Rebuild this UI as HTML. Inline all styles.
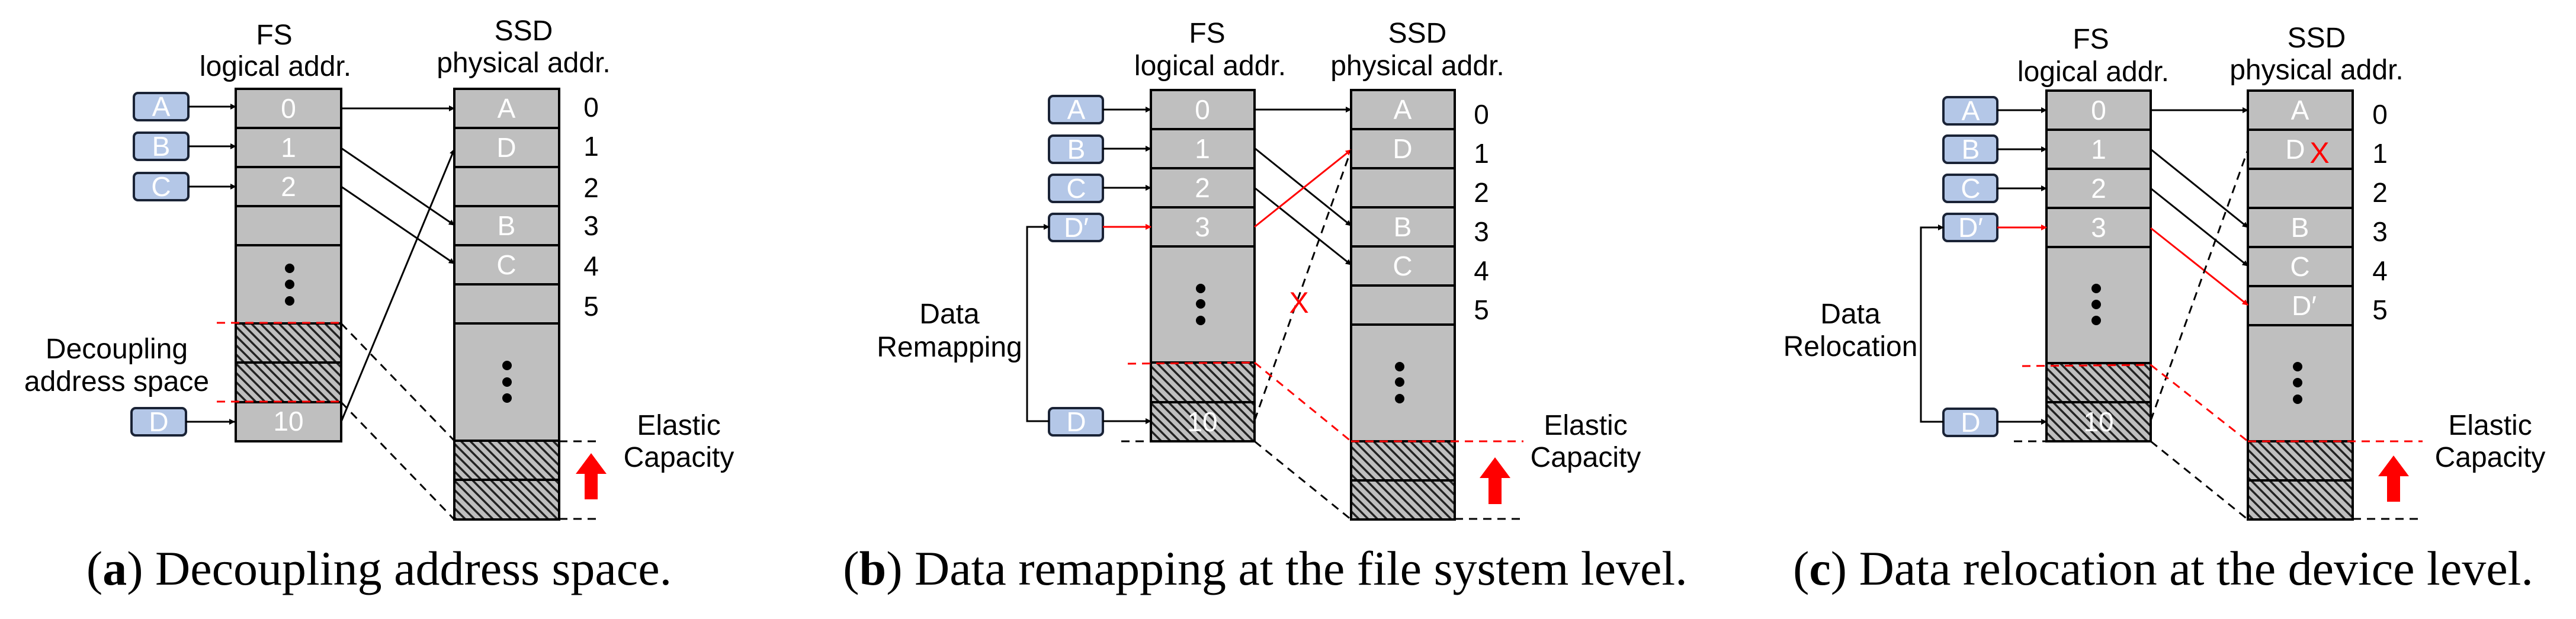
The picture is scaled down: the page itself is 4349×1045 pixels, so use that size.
<!DOCTYPE html>
<html><head><meta charset="utf-8"><style>
html,body{margin:0;padding:0;background:#fff;width:4349px;height:1045px;overflow:hidden}
svg{display:block}
text{font-family:"Liberation Sans",sans-serif}
.w{fill:#fff;font-size:46px;text-anchor:middle}
.k{fill:#000;font-size:46px;text-anchor:middle}
.h{fill:#000;font-size:48px;text-anchor:middle}
.cap{font-family:"Liberation Serif",serif;font-size:82px;fill:#000;text-anchor:middle}
.g{fill:#bfbfbf;stroke:#000;stroke-width:4}
.ht{fill:url(#hatch);stroke:#000;stroke-width:4}
.b{fill:#b4c7e7;stroke:#1a2336;stroke-width:4}
.ar{stroke:#000;stroke-width:3;fill:none;marker-end:url(#mk)}
.arr{stroke:#f00;stroke-width:3;fill:none;marker-end:url(#mr)}
.dk{stroke:#000;stroke-width:3;fill:none;stroke-dasharray:14 10}
.dr{stroke:#f00;stroke-width:3;fill:none;stroke-dasharray:14 10}
</style></head><body>
<svg width="4349" height="1045" viewBox="0 0 4349 1045" xmlns="http://www.w3.org/2000/svg">
<defs>
<pattern id="hatch" patternUnits="userSpaceOnUse" width="11" height="11" patternTransform="rotate(-45)">
<rect width="11" height="11" fill="#bfbfbf"/><rect x="0" y="0" width="3.5" height="11" fill="#222"/>
</pattern>
<marker id="mk" markerWidth="10" markerHeight="10" refX="9" refY="5" orient="auto" markerUnits="userSpaceOnUse"><path d="M0,0 L10,5 L0,10 z" fill="#000"/></marker>
<marker id="mr" markerWidth="10" markerHeight="10" refX="9" refY="5" orient="auto" markerUnits="userSpaceOnUse"><path d="M0,0 L10,5 L0,10 z" fill="#f00"/></marker>
</defs>

<!-- ============ PANEL A ============ -->
<text class="h" x="463" y="75">FS</text>
<text class="h" x="465" y="128">logical addr.</text>
<text class="h" x="884" y="68">SSD</text>
<text class="h" x="884" y="122">physical addr.</text>
<rect class="g" x="398" y="150" width="178" height="66"/>
<rect class="g" x="398" y="216" width="178" height="66"/>
<rect class="g" x="398" y="282" width="178" height="66"/>
<rect class="g" x="398" y="348" width="178" height="66"/>
<rect class="g" x="398" y="414" width="178" height="132"/>
<rect class="ht" x="398" y="546" width="178" height="66"/>
<rect class="ht" x="398" y="612" width="178" height="67"/>
<rect class="g" x="398" y="679" width="178" height="66"/>
<text class="w" x="487" y="199">0</text><text class="w" x="487" y="265">1</text><text class="w" x="487" y="331">2</text><text class="w" x="487" y="727">10</text>
<circle cx="489" cy="453" r="8"/><circle cx="489" cy="480" r="8"/><circle cx="489" cy="508" r="8"/>
<rect class="g" x="767" y="150" width="177" height="66"/>
<rect class="g" x="767" y="216" width="177" height="66"/>
<rect class="g" x="767" y="282" width="177" height="66"/>
<rect class="g" x="767" y="348" width="177" height="66"/>
<rect class="g" x="767" y="414" width="177" height="66"/>
<rect class="g" x="767" y="480" width="177" height="66"/>
<rect class="g" x="767" y="546" width="177" height="198"/>
<rect class="ht" x="767" y="744" width="177" height="66"/>
<rect class="ht" x="767" y="810" width="177" height="67"/>
<text class="w" x="855" y="199">A</text><text class="w" x="855" y="265">D</text><text class="w" x="855" y="397">B</text><text class="w" x="855" y="463">C</text>
<circle cx="856" cy="617" r="8"/><circle cx="856" cy="645" r="8"/><circle cx="856" cy="672" r="8"/>
<text class="k" x="998" y="197">0</text><text class="k" x="998" y="263">1</text><text class="k" x="998" y="333">2</text><text class="k" x="998" y="397">3</text><text class="k" x="998" y="465">4</text><text class="k" x="998" y="533">5</text>
<rect class="b" x="226" y="157" width="92" height="46" rx="7"/><text class="w" x="272" y="196">A</text>
<rect class="b" x="226" y="224" width="92" height="46" rx="7"/><text class="w" x="272" y="263">B</text>
<rect class="b" x="226" y="292" width="92" height="46" rx="7"/><text class="w" x="272" y="331">C</text>
<rect class="b" x="222" y="689" width="92" height="46" rx="7"/><text class="w" x="268" y="728">D</text>
<line class="ar" x1="318" y1="180" x2="398" y2="180"/>
<line class="ar" x1="318" y1="247" x2="398" y2="247"/>
<line class="ar" x1="318" y1="315" x2="398" y2="315"/>
<line class="ar" x1="314" y1="712" x2="396" y2="712"/>
<line class="ar" x1="576" y1="183" x2="767" y2="183"/>
<line class="ar" x1="576" y1="250" x2="767" y2="380"/>
<line class="ar" x1="576" y1="315" x2="767" y2="445"/>
<line class="ar" x1="576" y1="712" x2="767" y2="252"/>
<line class="dr" x1="366" y1="545" x2="576" y2="545"/>
<line class="dr" x1="366" y1="678" x2="576" y2="678"/>
<line class="dk" x1="576" y1="546" x2="767" y2="744"/>
<line class="dk" x1="576" y1="679" x2="767" y2="877"/>
<line class="dk" x1="944" y1="745" x2="1014" y2="745"/>
<line class="dk" x1="944" y1="876" x2="1014" y2="876"/>
<text class="h" x="197" y="605">Decoupling</text>
<text class="h" x="197" y="660">address space</text>
<text class="h" x="1146" y="734">Elastic</text>
<text class="h" x="1146" y="788">Capacity</text>
<path d="M972,800 L998,765 L1024,800 L1009,800 L1009,843 L987,843 L987,800 z" fill="#f00"/>
<text class="cap" x="640" y="987">(<tspan font-weight="bold">a</tspan>) Decoupling address space.</text>

<!-- ============ PANEL B ============ -->
<text class="h" x="2038" y="72">FS</text>
<text class="h" x="2043" y="127">logical addr.</text>
<text class="h" x="2393" y="72">SSD</text>
<text class="h" x="2393" y="127">physical addr.</text>
<rect class="g" x="1943" y="152" width="175" height="66"/>
<rect class="g" x="1943" y="218" width="175" height="66"/>
<rect class="g" x="1943" y="284" width="175" height="66"/>
<rect class="g" x="1943" y="350" width="175" height="66"/>
<rect class="g" x="1943" y="416" width="175" height="196"/>
<rect class="ht" x="1943" y="612" width="175" height="67"/>
<rect class="ht" x="1943" y="679" width="175" height="66"/>
<text class="w" x="2030" y="201">0</text><text class="w" x="2030" y="267">1</text><text class="w" x="2030" y="333">2</text><text class="w" x="2030" y="399">3</text><text class="w" x="2030" y="728">10</text>
<circle cx="2027" cy="487" r="8"/><circle cx="2027" cy="513" r="8"/><circle cx="2027" cy="541" r="8"/>
<rect class="g" x="2281" y="152" width="175" height="66"/>
<rect class="g" x="2281" y="218" width="175" height="66"/>
<rect class="g" x="2281" y="284" width="175" height="66"/>
<rect class="g" x="2281" y="350" width="175" height="66"/>
<rect class="g" x="2281" y="416" width="175" height="66"/>
<rect class="g" x="2281" y="482" width="175" height="66"/>
<rect class="g" x="2281" y="548" width="175" height="197"/>
<rect class="ht" x="2281" y="745" width="175" height="66"/>
<rect class="ht" x="2281" y="811" width="175" height="66"/>
<text class="w" x="2368" y="201">A</text><text class="w" x="2368" y="267">D</text><text class="w" x="2368" y="399">B</text><text class="w" x="2368" y="465">C</text>
<circle cx="2363" cy="619" r="8"/><circle cx="2363" cy="645" r="8"/><circle cx="2363" cy="673" r="8"/>
<text class="k" x="2501" y="209">0</text><text class="k" x="2501" y="275">1</text><text class="k" x="2501" y="341">2</text><text class="k" x="2501" y="407">3</text><text class="k" x="2501" y="473">4</text><text class="k" x="2501" y="539">5</text>
<rect class="b" x="1771" y="162" width="91" height="46" rx="7"/><text class="w" x="1817" y="201">A</text>
<rect class="b" x="1771" y="229" width="91" height="46" rx="7"/><text class="w" x="1817" y="268">B</text>
<rect class="b" x="1771" y="295" width="91" height="46" rx="7"/><text class="w" x="1817" y="334">C</text>
<rect class="b" x="1771" y="361" width="91" height="46" rx="7"/><text class="w" x="1817" y="400">D′</text>
<rect class="b" x="1771" y="689" width="91" height="46" rx="7"/><text class="w" x="1817" y="728">D</text>
<line class="ar" x1="1862" y1="185" x2="1943" y2="185"/>
<line class="ar" x1="1862" y1="251" x2="1943" y2="251"/>
<line class="ar" x1="1862" y1="317" x2="1943" y2="317"/>
<line class="arr" x1="1862" y1="383" x2="1943" y2="383"/>
<line class="ar" x1="1862" y1="711" x2="1943" y2="711"/>
<polyline class="ar" points="1771,711 1734,711 1734,383 1771,383"/>
<text class="h" x="1603" y="546">Data</text>
<text class="h" x="1603" y="602">Remapping</text>
<line class="ar" x1="2118" y1="185" x2="2281" y2="185"/>
<line class="ar" x1="2118" y1="250" x2="2281" y2="381"/>
<line class="ar" x1="2118" y1="317" x2="2281" y2="447"/>
<line class="arr" x1="2118" y1="383" x2="2281" y2="253"/>
<line class="dk" x1="2118" y1="710" x2="2281" y2="253"/>
<text x="2193" y="528" font-size="50" fill="#f00" text-anchor="middle">X</text>
<line class="dr" x1="1904" y1="614" x2="2118" y2="612"/>
<line class="dr" x1="2118" y1="612" x2="2281" y2="745"/>
<line class="dr" x1="2281" y1="745" x2="2572" y2="745"/>
<line class="dk" x1="1893" y1="745" x2="1943" y2="745"/>
<line class="dk" x1="2118" y1="745" x2="2281" y2="877"/>
<line class="dk" x1="2456" y1="876" x2="2572" y2="876"/>
<text class="h" x="2677" y="734">Elastic</text>
<text class="h" x="2677" y="788">Capacity</text>
<path d="M2498,807 L2524,772 L2550,807 L2535,807 L2535,851 L2513,851 L2513,807 z" fill="#f00"/>
<text class="cap" x="2136" y="987">(<tspan font-weight="bold">b</tspan>) Data remapping at the file system level.</text>

<!-- ============ PANEL C ============ -->
<text class="h" x="3530" y="82">FS</text>
<text class="h" x="3534" y="137">logical addr.</text>
<text class="h" x="3911" y="80">SSD</text>
<text class="h" x="3911" y="134">physical addr.</text>
<rect class="g" x="3455" y="153" width="176" height="66"/>
<rect class="g" x="3455" y="219" width="176" height="66"/>
<rect class="g" x="3455" y="285" width="176" height="66"/>
<rect class="g" x="3455" y="351" width="176" height="66"/>
<rect class="g" x="3455" y="417" width="176" height="196"/>
<rect class="ht" x="3455" y="613" width="176" height="66"/>
<rect class="ht" x="3455" y="679" width="176" height="66"/>
<text class="w" x="3543" y="202">0</text><text class="w" x="3543" y="268">1</text><text class="w" x="3543" y="334">2</text><text class="w" x="3543" y="400">3</text><text class="w" x="3543" y="728">10</text>
<circle cx="3539" cy="487" r="8"/><circle cx="3539" cy="514" r="8"/><circle cx="3539" cy="541" r="8"/>
<rect class="g" x="3795" y="153" width="177" height="66"/>
<rect class="g" x="3795" y="219" width="177" height="66"/>
<rect class="g" x="3795" y="285" width="177" height="66"/>
<rect class="g" x="3795" y="351" width="177" height="66"/>
<rect class="g" x="3795" y="417" width="177" height="66"/>
<rect class="g" x="3795" y="483" width="177" height="66"/>
<rect class="g" x="3795" y="549" width="177" height="196"/>
<rect class="ht" x="3795" y="745" width="177" height="66"/>
<rect class="ht" x="3795" y="811" width="177" height="66"/>
<text class="w" x="3883" y="202">A</text><text class="w" x="3875" y="268">D</text><text class="w" x="3883" y="400">B</text><text class="w" x="3883" y="466">C</text><text class="w" x="3890" y="532">D′</text>
<text x="3916" y="275" font-size="50" fill="#f00" text-anchor="middle">X</text>
<circle cx="3879" cy="619" r="8"/><circle cx="3879" cy="646" r="8"/><circle cx="3879" cy="674" r="8"/>
<text class="k" x="4018" y="209">0</text><text class="k" x="4018" y="275">1</text><text class="k" x="4018" y="341">2</text><text class="k" x="4018" y="407">3</text><text class="k" x="4018" y="473">4</text><text class="k" x="4018" y="539">5</text>
<rect class="b" x="3281" y="164" width="91" height="46" rx="7"/><text class="w" x="3327" y="203">A</text>
<rect class="b" x="3281" y="229" width="91" height="46" rx="7"/><text class="w" x="3327" y="268">B</text>
<rect class="b" x="3281" y="295" width="91" height="46" rx="7"/><text class="w" x="3327" y="334">C</text>
<rect class="b" x="3281" y="361" width="91" height="46" rx="7"/><text class="w" x="3327" y="400">D′</text>
<rect class="b" x="3281" y="690" width="91" height="46" rx="7"/><text class="w" x="3327" y="729">D</text>
<line class="ar" x1="3372" y1="186" x2="3455" y2="186"/>
<line class="ar" x1="3372" y1="252" x2="3455" y2="252"/>
<line class="ar" x1="3372" y1="318" x2="3455" y2="318"/>
<line class="arr" x1="3372" y1="384" x2="3455" y2="384"/>
<line class="ar" x1="3372" y1="712" x2="3455" y2="712"/>
<polyline class="ar" points="3281,712 3243,712 3243,384 3281,384"/>
<text class="h" x="3124" y="546">Data</text>
<text class="h" x="3124" y="601">Relocation</text>
<line class="ar" x1="3631" y1="186" x2="3795" y2="186"/>
<line class="ar" x1="3631" y1="252" x2="3795" y2="384"/>
<line class="ar" x1="3631" y1="318" x2="3795" y2="449"/>
<line class="arr" x1="3631" y1="385" x2="3795" y2="515"/>
<line class="dk" x1="3631" y1="710" x2="3795" y2="253"/>
<line class="dr" x1="3414" y1="618" x2="3631" y2="616"/>
<line class="dr" x1="3631" y1="616" x2="3795" y2="745"/>
<line class="dr" x1="3795" y1="745" x2="4090" y2="745"/>
<line class="dk" x1="3400" y1="745" x2="3455" y2="745"/>
<line class="dk" x1="3631" y1="745" x2="3795" y2="877"/>
<line class="dk" x1="3972" y1="876" x2="4090" y2="876"/>
<text class="h" x="4204" y="734">Elastic</text>
<text class="h" x="4204" y="788">Capacity</text>
<path d="M4015,804 L4041,769 L4067,804 L4052,804 L4052,847 L4030,847 L4030,804 z" fill="#f00"/>
<text class="cap" x="3652" y="987">(<tspan font-weight="bold">c</tspan>) Data relocation at the device level.</text>
</svg>
</body></html>
